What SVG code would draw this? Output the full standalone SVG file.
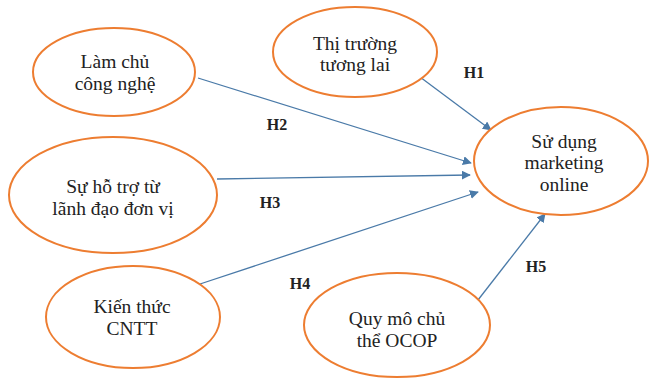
<svg xmlns="http://www.w3.org/2000/svg" width="649" height="379" viewBox="0 0 649 379">
<defs>
<marker id="ah" viewBox="0 0 10 10" refX="9" refY="5" markerWidth="9" markerHeight="9" markerUnits="userSpaceOnUse" orient="auto">
<path d="M0,0 L10,5 L0,10 z" fill="#4a7aa8"/>
</marker>
<style>
.n ellipse{fill:#fff;stroke:#ed7d31;stroke-width:2}
.n text{font-family:"Liberation Serif",serif;font-size:19.5px;fill:#222;text-anchor:middle}
.c line{stroke:#4a7aa8;stroke-width:1.3;marker-end:url(#ah)}
.l{font-family:"Liberation Serif",serif;font-size:16px;font-weight:bold;fill:#222;text-anchor:middle}
</style>
</defs>
<rect width="649" height="379" fill="#fff"/>
<g id="connectors" class="c">
<line x1="420" y1="77" x2="491" y2="130"/>
<line x1="198" y1="78" x2="471" y2="163"/>
<line x1="217" y1="179" x2="470" y2="175"/>
<line x1="200" y1="284" x2="478" y2="192"/>
<line x1="478" y1="300" x2="545" y2="214"/>
</g>
<g id="labels">
<text class="l" x="474" y="78">H1</text>
<text class="l" x="277" y="130">H2</text>
<text class="l" x="270" y="208">H3</text>
<text class="l" x="300" y="289">H4</text>
<text class="l" x="536" y="272">H5</text>
</g>
<g id="n-lamchu" class="n">
<ellipse cx="114" cy="72" rx="81" ry="44"/>
<text x="115" y="68">Làm chủ</text>
<text x="115" y="90">công nghệ</text>
</g>
<g id="n-thitruong" class="n">
<ellipse cx="355" cy="52" rx="82" ry="45"/>
<text x="355" y="50">Thị trường</text>
<text x="355" y="71">tương lai</text>
</g>
<g id="n-sudung" class="n">
<ellipse cx="561" cy="161" rx="87" ry="54"/>
<text x="564" y="148">Sử dụng</text>
<text x="564" y="169">marketing</text>
<text x="564" y="191">online</text>
</g>
<g id="n-suhotro" class="n">
<ellipse cx="113" cy="195" rx="104" ry="58"/>
<text x="113" y="193">Sự hỗ trợ từ</text>
<text x="113" y="215">lãnh đạo đơn vị</text>
</g>
<g id="n-kienthuc" class="n">
<ellipse cx="133" cy="317" rx="87" ry="51"/>
<text x="132" y="313">Kiến thức</text>
<text x="132" y="335">CNTT</text>
</g>
<g id="n-quymo" class="n">
<ellipse cx="397" cy="325" rx="93" ry="52"/>
<text x="397" y="325">Quy mô chủ</text>
<text x="397" y="347">thể OCOP</text>
</g>
</svg>
